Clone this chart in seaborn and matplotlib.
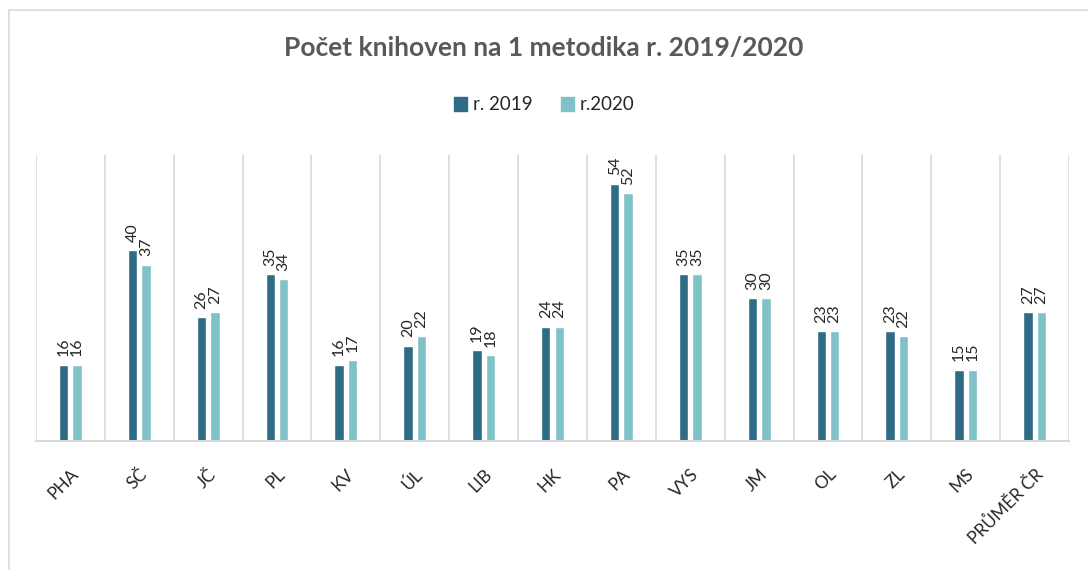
import numpy as np
import pandas as pd
import matplotlib
matplotlib.use("Agg")
import matplotlib.pyplot as plt
import seaborn as sns
from matplotlib.lines import Line2D

# data
kraje = ['PHA', 'SČ', 'JČ', 'PL', 'KV', 'ÚL', 'LIB', 'HK', 'PA', 'VYS',
         'JM', 'OL', 'ZL', 'MS', 'PRŮMĚR ČR']
r2019 = [16, 40, 26, 35, 16, 20, 19, 24, 54, 35, 30, 23, 23, 15, 27]
r2020 = [16, 37, 27, 34, 17, 22, 18, 24, 52, 35, 30, 23, 22, 15, 27]
series = ['r. 2019', 'r.2020']
colors = ['#2e6b85', '#7fc3c9']

df = pd.DataFrame({
    'kraj': kraje * 2,
    'hodnota': r2019 + r2020,
    'rok': [series[0]] * len(kraje) + [series[1]] * len(kraje),
})

sns.set_style('white')
plt.rcParams['font.family'] = ['Lato', 'DejaVu Sans']

fig = plt.figure(figsize=(10.88, 5.70), dpi=100)
ax = fig.add_axes([36 / 1088, 1 - 441 / 570, (1069 - 36) / 1088, (441 - 155) / 570])

sns.barplot(data=df, x='kraj', y='hodnota', hue='rok', palette=colors,
            width=0.39, gap=0.3, ax=ax, legend=False, saturation=1)

ax.set_ylim(0, 60)
ax.set_xlim(-0.5, len(kraje) - 0.5)
ax.set_xlabel('')
ax.set_ylabel('')
ax.set_yticks([])

# category separators
for i in range(len(kraje) + 1):
    ax.axvline(i - 0.5, color='#d9d9d9', lw=1.2, zorder=0)
for s in ['top', 'left', 'right']:
    ax.spines[s].set_visible(False)
ax.spines['bottom'].set_color('#d9d9d9')
ax.spines['bottom'].set_linewidth(1.5)

# value labels
for cont in ax.containers:
    ax.bar_label(cont, rotation=90, padding=6, fontsize=11.5, color='#262626')

ax.set_xticks(range(len(kraje)))
ax.set_xticklabels(kraje, rotation=45, ha='right', rotation_mode='anchor',
                   fontsize=12.5, color='#262626')
ax.tick_params(axis='x', length=0, pad=18)

fig.text(0.5, 1 - 48 / 570, 'Počet knihoven na 1 metodika r. 2019/2020',
         ha='center', va='center', fontsize=19, fontweight='bold', color='#595959')

handles = [plt.Rectangle((0, 0), 1, 1, color=c) for c in colors]
fig.legend(handles, series, loc='center', bbox_to_anchor=(0.5, 1 - 105 / 570), ncol=2,
           frameon=False, fontsize=13.5, handlelength=0.7, handleheight=0.7,
           columnspacing=1.5, handletextpad=0.3)

# chart area border
fig.add_artist(Line2D([9 / 1088, 1], [1 - 10 / 570, 1 - 10 / 570], color='#d9d9d9', lw=1.2))
fig.add_artist(Line2D([9 / 1088, 9 / 1088], [0, 1 - 10 / 570], color='#d9d9d9', lw=1.2))

fig.savefig('out.png', dpi=100)
